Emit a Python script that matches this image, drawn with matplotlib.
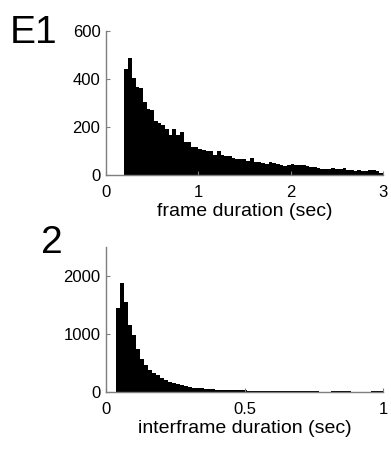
import numpy as np
import matplotlib
matplotlib.use('Agg')
import matplotlib.pyplot as plt

plt.rcParams['font.family'] = ['Liberation Sans', 'DejaVu Sans']

# frame duration histogram (bins of 0.04 s from 0.2 s to 3.0 s)
frame_edges = np.linspace(0.2, 3.0, 71)
frame_counts = [442, 487, 405, 366, 362, 304, 276, 269, 225, 217,
                207, 193, 166, 193, 166, 179, 139, 139, 117, 115,
                108, 104, 100, 98, 82, 102, 85, 78, 78, 70,
                65, 66, 65, 58, 72, 55, 53, 48, 46, 55,
                48, 47, 40, 39, 40, 47, 42, 40, 40, 38,
                35, 35, 28, 25, 25, 24, 30, 24, 26, 28,
                21, 19, 18, 21, 18, 17, 21, 21, 18, 10]

# interframe duration histogram
inter_edges = np.linspace(0.035, 1.0, 68)
inter_counts = [1440, 1870, 1545, 1160, 975, 745, 561, 462, 375, 325,
                290, 245, 205, 173, 150, 130, 110, 95, 85, 70,
                62, 56, 50, 42, 40, 38, 36, 30, 29, 28,
                28, 26, 24, 17, 16, 12, 11, 10, 11, 9,
                10, 8, 9, 8, 7, 9, 7, 8, 6, 7,
                6, 2, 1, 3, 8, 9, 8, 7, 8, 2,
                1, 2, 1, 2, 5, 4, 5]

spine_col = '#7f7f7f'


def style_axis(ax):
    for s in ['top', 'right']:
        ax.spines[s].set_visible(False)
    for s in ['left', 'bottom']:
        ax.spines[s].set_color(spine_col)
        ax.spines[s].set_linewidth(1.0)
    ax.tick_params(direction='in', length=3, color=spine_col,
                   labelsize=12)
    ax.tick_params(axis='x', pad=7.5)
    ax.tick_params(axis='y', pad=4)


fig = plt.figure(figsize=(3.91, 4.55), dpi=100)

ax1 = fig.add_axes([0.271, 0.6154, 0.709, 0.3165])
ax1.bar(frame_edges[:-1], frame_counts, width=np.diff(frame_edges),
        align='edge', color='k', linewidth=0)
ax1.set_xlim(0, 3)
ax1.set_ylim(0, 600)
ax1.set_xticks([0, 1, 2, 3])
ax1.set_yticks([0, 200, 400, 600])
ax1.set_xlabel('frame duration (sec)', fontsize=14, labelpad=2)
style_axis(ax1)

ax2 = fig.add_axes([0.271, 0.1391, 0.709, 0.318])
ax2.bar(inter_edges[:-1], inter_counts, width=np.diff(inter_edges),
        align='edge', color='k', linewidth=0)
ax2.set_xlim(0, 1)
ax2.set_ylim(0, 2500)
ax2.set_xticks([0, 0.5, 1])
ax2.set_xticklabels(['0', '0.5', '1'])
ax2.set_yticks([0, 1000, 2000])
ax2.set_xlabel('interframe duration (sec)', fontsize=14, labelpad=2)
style_axis(ax2)

fig.text(0.025, 0.905, 'E1', fontsize=28, ha='left', va='baseline')
fig.text(0.104, 0.444, '2', fontsize=28, ha='left', va='baseline')

fig.savefig('out.png', dpi=100)
